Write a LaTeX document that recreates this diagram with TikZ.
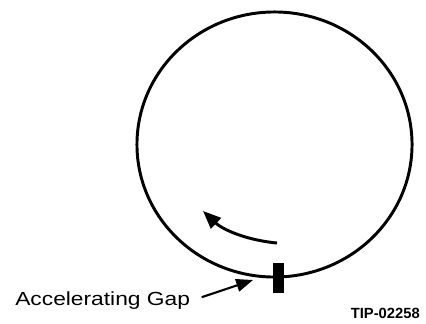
\documentclass[tikz,border=0pt]{standalone}
\usepackage{fontspec}
\setmainfont{Liberation Sans}
\usetikzlibrary{arrows.meta}

\begin{document}
\begin{tikzpicture}[
  x=0.025cm, y=-0.025cm,
  ring/.style={line width=2.1pt, black},
  pointer/.style={-{Triangle[length=0.42cm, width=0.32cm]}, line width=1.5pt},
  motion/.style={-{Triangle[length=0.45cm, width=0.36cm]}, line width=2.1pt},
  gapbar/.style={rectangle, fill=black, minimum width=0.27cm, minimum height=0.75cm, inner sep=0pt},
  caption/.style={inner sep=0pt, font=\fontsize{13.5}{15}\selectfont}
]
  \useasboundingbox (0,0) rectangle (426,323);

  % the ring itself
  \draw[ring] (274.5,144.5) ellipse [x radius=3.4375cm, y radius=3.3125cm];

  % the accelerating gap sits on the bottom of the ring
  \node[gapbar] (gap) at (278.5,278) {};

  % direction of travel inside the ring
  \coordinate (tail) at (277,243);
  \coordinate (head) at (203,211);
  \draw[motion] (tail) .. controls (245,240) and (222,229) .. (head);

  % labels
  \node[caption, anchor=west] (gaplabel) at (15,301) {\scalebox{1.2}[1]{Accelerating Gap}};
  \coordinate (gapmark) at (253,280);
  \draw[pointer, shorten <=0.3cm] (gaplabel.east) -- (gapmark);

  \node[inner sep=0pt, anchor=east, font=\bfseries\fontsize{10.5}{12}\selectfont] (tag) at (420,313) {TIP-02258};

\end{tikzpicture}
\end{document}
